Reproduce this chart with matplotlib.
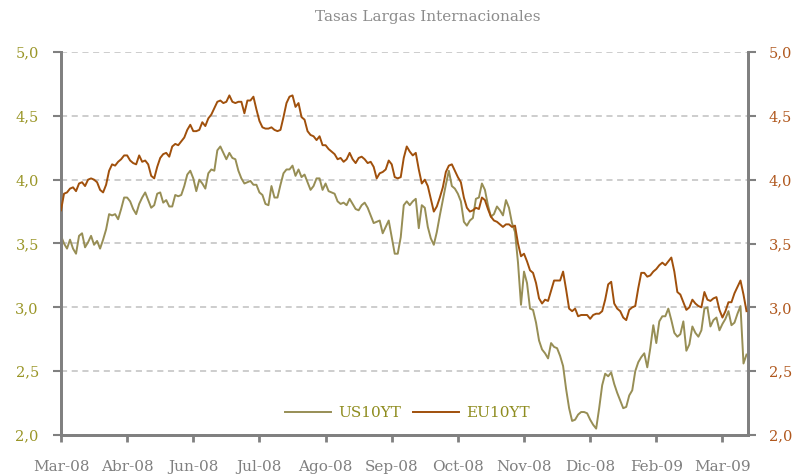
import numpy as np
import matplotlib
matplotlib.use('Agg')
import matplotlib.pyplot as plt
from matplotlib.ticker import FuncFormatter

# Daily 10Y yields (%)
tick_labels = ['Mar-08', 'Abr-08', 'Jun-08', 'Jul-08', 'Ago-08', 'Sep-08',
               'Oct-08', 'Nov-08', 'Dic-08', 'Feb-09', 'Mar-09']
tick_step = 22  # observations between two date labels

us10yt = [3.56, 3.50, 3.46, 3.53, 3.46, 3.42, 3.56, 3.58, 3.47, 3.51,
          3.56, 3.49, 3.52, 3.46, 3.53, 3.61, 3.73, 3.72, 3.73, 3.69,
          3.77, 3.86, 3.86, 3.83, 3.77, 3.73, 3.81, 3.86, 3.90, 3.84,
          3.78, 3.80, 3.89, 3.90, 3.82, 3.84, 3.79, 3.79, 3.88, 3.87,
          3.88, 3.95, 4.04, 4.07, 4.01, 3.91, 4.00, 3.97, 3.93, 4.05,
          4.08, 4.07, 4.23, 4.26, 4.21, 4.16, 4.21, 4.17, 4.16, 4.07,
          4.01, 3.97, 3.98, 3.99, 3.96, 3.96, 3.90, 3.88, 3.81, 3.80,
          3.95, 3.86, 3.86, 3.96, 4.05, 4.08, 4.08, 4.11, 4.03, 4.08,
          4.02, 4.04, 3.98, 3.92, 3.95, 4.01, 4.01, 3.92, 3.97, 3.91,
          3.90, 3.89, 3.83, 3.81, 3.82, 3.80, 3.85, 3.81, 3.77, 3.76,
          3.80, 3.82, 3.78, 3.72, 3.66, 3.67, 3.68, 3.58, 3.63, 3.68,
          3.55, 3.42, 3.42, 3.55, 3.80, 3.83, 3.80, 3.83, 3.85, 3.62,
          3.80, 3.78, 3.63, 3.54, 3.49, 3.59, 3.72, 3.84, 3.96, 4.07,
          3.95, 3.93, 3.89, 3.83, 3.67, 3.64, 3.68, 3.70, 3.85, 3.86,
          3.97, 3.92, 3.80, 3.71, 3.73, 3.79, 3.76, 3.72, 3.84, 3.78,
          3.66, 3.59, 3.35, 3.02, 3.28, 3.19, 2.99, 2.98, 2.88, 2.74,
          2.67, 2.64, 2.60, 2.72, 2.69, 2.68, 2.62, 2.54, 2.36, 2.21,
          2.11, 2.12, 2.16, 2.18, 2.18, 2.17, 2.12, 2.08, 2.05, 2.21,
          2.39, 2.48, 2.46, 2.49, 2.40, 2.33, 2.27, 2.21, 2.22, 2.31,
          2.35, 2.50, 2.57, 2.61, 2.64, 2.53, 2.68, 2.86, 2.72, 2.89,
          2.93, 2.93, 2.99, 2.90, 2.80, 2.77, 2.79, 2.89, 2.66, 2.71,
          2.85, 2.80, 2.77, 2.82, 2.99, 3.00, 2.85, 2.90, 2.92, 2.82,
          2.87, 2.91, 2.97, 2.86, 2.88, 2.95, 3.01, 2.56, 2.63]

eu10yt = [3.76, 3.89, 3.90, 3.93, 3.94, 3.91, 3.97, 3.98, 3.95, 4.00,
          4.01, 4.00, 3.98, 3.92, 3.90, 3.96, 4.07, 4.12, 4.11, 4.14,
          4.16, 4.19, 4.19, 4.15, 4.13, 4.12, 4.19, 4.14, 4.15, 4.12,
          4.03, 4.01, 4.10, 4.17, 4.20, 4.21, 4.18, 4.26, 4.28, 4.27,
          4.30, 4.33, 4.39, 4.43, 4.38, 4.38, 4.39, 4.45, 4.42, 4.48,
          4.51, 4.56, 4.61, 4.62, 4.60, 4.61, 4.66, 4.61, 4.60, 4.61,
          4.61, 4.52, 4.62, 4.62, 4.65, 4.55, 4.46, 4.41, 4.40, 4.40,
          4.41, 4.39, 4.38, 4.39, 4.49, 4.60, 4.65, 4.66, 4.57, 4.60,
          4.49, 4.47, 4.38, 4.35, 4.34, 4.31, 4.34, 4.27, 4.27, 4.24,
          4.22, 4.20, 4.16, 4.17, 4.14, 4.16, 4.21, 4.16, 4.13, 4.17,
          4.18, 4.16, 4.13, 4.14, 4.10, 4.01, 4.05, 4.06, 4.08, 4.15,
          4.12, 4.02, 4.01, 4.02, 4.17, 4.26, 4.22, 4.19, 4.21, 4.08,
          3.97, 4.00, 3.95, 3.85, 3.75, 3.79, 3.86, 3.94, 4.06, 4.11,
          4.12, 4.07, 4.02, 3.98, 3.86, 3.78, 3.75, 3.76, 3.78, 3.77,
          3.86, 3.84, 3.77, 3.71, 3.68, 3.67, 3.65, 3.63, 3.65, 3.65,
          3.63, 3.64, 3.50, 3.40, 3.42, 3.36, 3.29, 3.27, 3.19, 3.07,
          3.03, 3.06, 3.05, 3.13, 3.21, 3.21, 3.21, 3.28, 3.14, 2.99,
          2.97, 2.99, 2.93, 2.94, 2.94, 2.94, 2.91, 2.94, 2.95, 2.95,
          2.97, 3.06, 3.18, 3.20, 3.03, 2.99, 2.97, 2.92, 2.90, 2.98,
          3.00, 3.01, 3.15, 3.27, 3.27, 3.24, 3.25, 3.28, 3.30, 3.33,
          3.35, 3.33, 3.36, 3.39, 3.28, 3.12, 3.10, 3.04, 2.98, 3.00,
          3.06, 3.03, 3.01, 3.00, 3.12, 3.06, 3.05, 3.07, 3.08, 2.98,
          2.92, 2.97, 3.04, 3.04, 3.11, 3.16, 3.21, 3.10, 2.97]

us_color = '#978E55'
eu_color = '#A0500C'
left_lab = '#9A9628'
right_lab = '#B0581E'
axis_gray = '#808080'

plt.rcParams['font.family'] = 'DejaVu Serif'

x = np.arange(len(us10yt))

fig = plt.figure(figsize=(7.92, 4.74), dpi=100)
ax = fig.add_axes([61 / 792, 39 / 474, 687 / 792, 383 / 474])
ax2 = ax.twinx()

l1, = ax.plot(x, us10yt, color=us_color, lw=1.4, label='US10YT', zorder=3)
l2, = ax2.plot(x, eu10yt, color=eu_color, lw=1.4, label='EU10YT', zorder=3)

for a in (ax, ax2):
    a.set_ylim(2.0, 5.0)
    a.set_yticks(np.arange(2.0, 5.01, 0.5))
    a.yaxis.set_major_formatter(FuncFormatter(lambda v, p: f'{v:.1f}'.replace('.', ',')))
    a.set_xlim(0, 228.5)
    a.spines['top'].set_visible(False)
    for s in ('left', 'right', 'bottom'):
        a.spines[s].set_color(axis_gray)
        a.spines[s].set_linewidth(2)

ax.yaxis.grid(True, linestyle=(0, (4, 3)), color='#C0C0C0', lw=1.1)
ax.set_axisbelow(True)

ax.set_xticks(np.arange(len(tick_labels)) * tick_step)
ax.set_xticklabels(tick_labels)
ax.tick_params(axis='x', length=5, width=2, color=axis_gray, pad=13,
               labelcolor=axis_gray, labelsize=11)
ax.tick_params(axis='y', length=6, width=1.5, color=axis_gray, pad=10,
               labelcolor=left_lab, labelsize=10.5)
ax2.tick_params(axis='y', length=6, width=1.5, color=axis_gray, pad=9,
                labelcolor=right_lab, labelsize=10.5)

leg = ax2.legend(handles=[l1, l2], loc='center', bbox_to_anchor=(0.504, 0.057),
                 ncol=2, frameon=False, fontsize=11, handlelength=3.0,
                 handletextpad=0.45, columnspacing=0.8)
for t in leg.get_texts():
    t.set_color('#8E8C1E')

fig.text(428 / 792, 1 - 17 / 474, 'Tasas Largas Internacionales', ha='center',
         va='center', color='#8C8C8C', fontsize=11)

fig.savefig('out.png', dpi=100)
